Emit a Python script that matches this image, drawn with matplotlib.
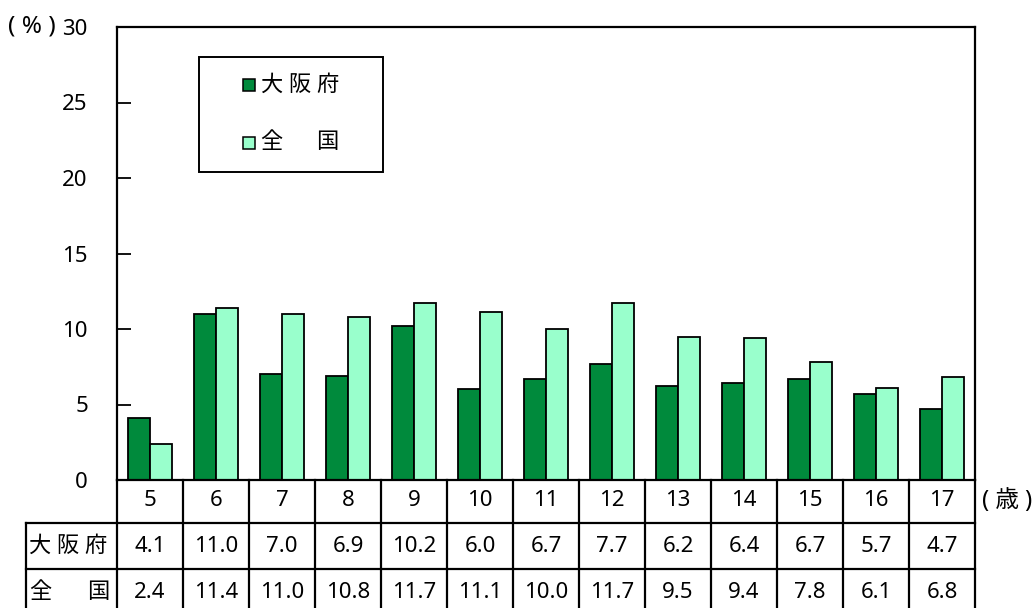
import numpy as np
import matplotlib.pyplot as plt
from matplotlib.patches import Rectangle
from matplotlib.transforms import blended_transform_factory

plt.rcParams['font.family'] = ['Noto Sans', 'Noto Sans CJK JP', 'DejaVu Sans']

ages = ['5', '6', '7', '8', '9', '10', '11', '12', '13', '14', '15', '16', '17']
osaka = [4.1, 11.0, 7.0, 6.9, 10.2, 6.0, 6.7, 7.7, 6.2, 6.4, 6.7, 5.7, 4.7]
zenkoku = [2.4, 11.4, 11.0, 10.8, 11.7, 11.1, 10.0, 11.7, 9.5, 9.4, 7.8, 6.1, 6.8]
legend_names = ['大 阪 府', '全　  国']

dark = '#008a3c'
light = '#99ffcc'
W, H = 1036, 608
fs = 16

# axes box in pixels
L, R, T, B = 117, 975, 27, 480


def fx(px):
    return px / W


def fy(py):
    return 1 - py / H


def ax_x(px):
    return (px - L) / (R - L)


def ax_y(py):
    return (B - py) / (B - T)


fig = plt.figure(figsize=(W / 100, H / 100), dpi=100)
ax = fig.add_axes([fx(L), fy(B), fx(R) - fx(L), fy(T) - fy(B)])

x = np.arange(len(ages))
bw = 0.34
ax.bar(x - bw / 2, osaka, bw, color=dark, edgecolor='black', linewidth=1.3)
ax.bar(x + bw / 2, zenkoku, bw, color=light, edgecolor='black', linewidth=1.3)

ax.set_xlim(-0.5, len(ages) - 0.5)
ax.set_ylim(0, 30)
ax.set_yticks([0, 5, 10, 15, 20, 25, 30])
ax.tick_params(axis='y', direction='in', length=10, width=1.3, labelsize=fs, pad=21)
ax.tick_params(axis='x', bottom=False, labelbottom=False)
for s in ax.spines.values():
    s.set_linewidth(1.6)

# legend box
ax.add_patch(Rectangle((ax_x(199), ax_y(172)), ax_x(383) - ax_x(199), ax_y(57) - ax_y(172),
                       transform=ax.transAxes, fill=False, edgecolor='black', lw=1.4))
for col, name, py in zip([dark, light], legend_names, [85, 143]):
    ax.add_patch(Rectangle((ax_x(243), ax_y(py + 6)), ax_x(255) - ax_x(243), ax_y(py - 6) - ax_y(py + 6),
                           transform=ax.transAxes, facecolor=col, edgecolor='black', lw=1.1))
    ax.text(ax_x(261), ax_y(py), name, transform=ax.transAxes, fontsize=fs, ha='left', va='center')

fig.text(fx(8), fy(27), '( % )', fontsize=17.5, ha='left', va='center')

# data table below the axes
lw = 1.6
tr = blended_transform_factory(ax.transData, fig.transFigure)
fig.add_artist(plt.Line2D([fx(26), fx(R)], [fy(523), fy(523)], color='black', lw=lw))
fig.add_artist(plt.Line2D([fx(26), fx(R)], [fy(569), fy(569)], color='black', lw=lw))
fig.add_artist(plt.Line2D([fx(26), fx(26)], [fy(523), fy(620)], color='black', lw=lw))
for i in range(len(ages) + 1):
    fig.add_artist(plt.Line2D([i - 0.5, i - 0.5], [fy(B), fy(620)], color='black', lw=lw, transform=tr))

for i, a in enumerate(ages):
    fig.text(i, fy(501), a, transform=tr, fontsize=fs, ha='center', va='center')
    fig.text(i, fy(546), f'{osaka[i]:.1f}', transform=tr, fontsize=fs, ha='center', va='center')
    fig.text(i, fy(592), f'{zenkoku[i]:.1f}', transform=tr, fontsize=fs, ha='center', va='center')

fig.text(fx(29), fy(546), legend_names[0], fontsize=fs, ha='left', va='center')
fig.text(fx(29), fy(592), '全', fontsize=fs, ha='left', va='center')
fig.text(fx(109), fy(592), '国', fontsize=fs, ha='right', va='center')
fig.text(fx(982), fy(501), '( 歳 )', fontsize=17, ha='left', va='center')

fig.savefig('out.png', dpi=100)
